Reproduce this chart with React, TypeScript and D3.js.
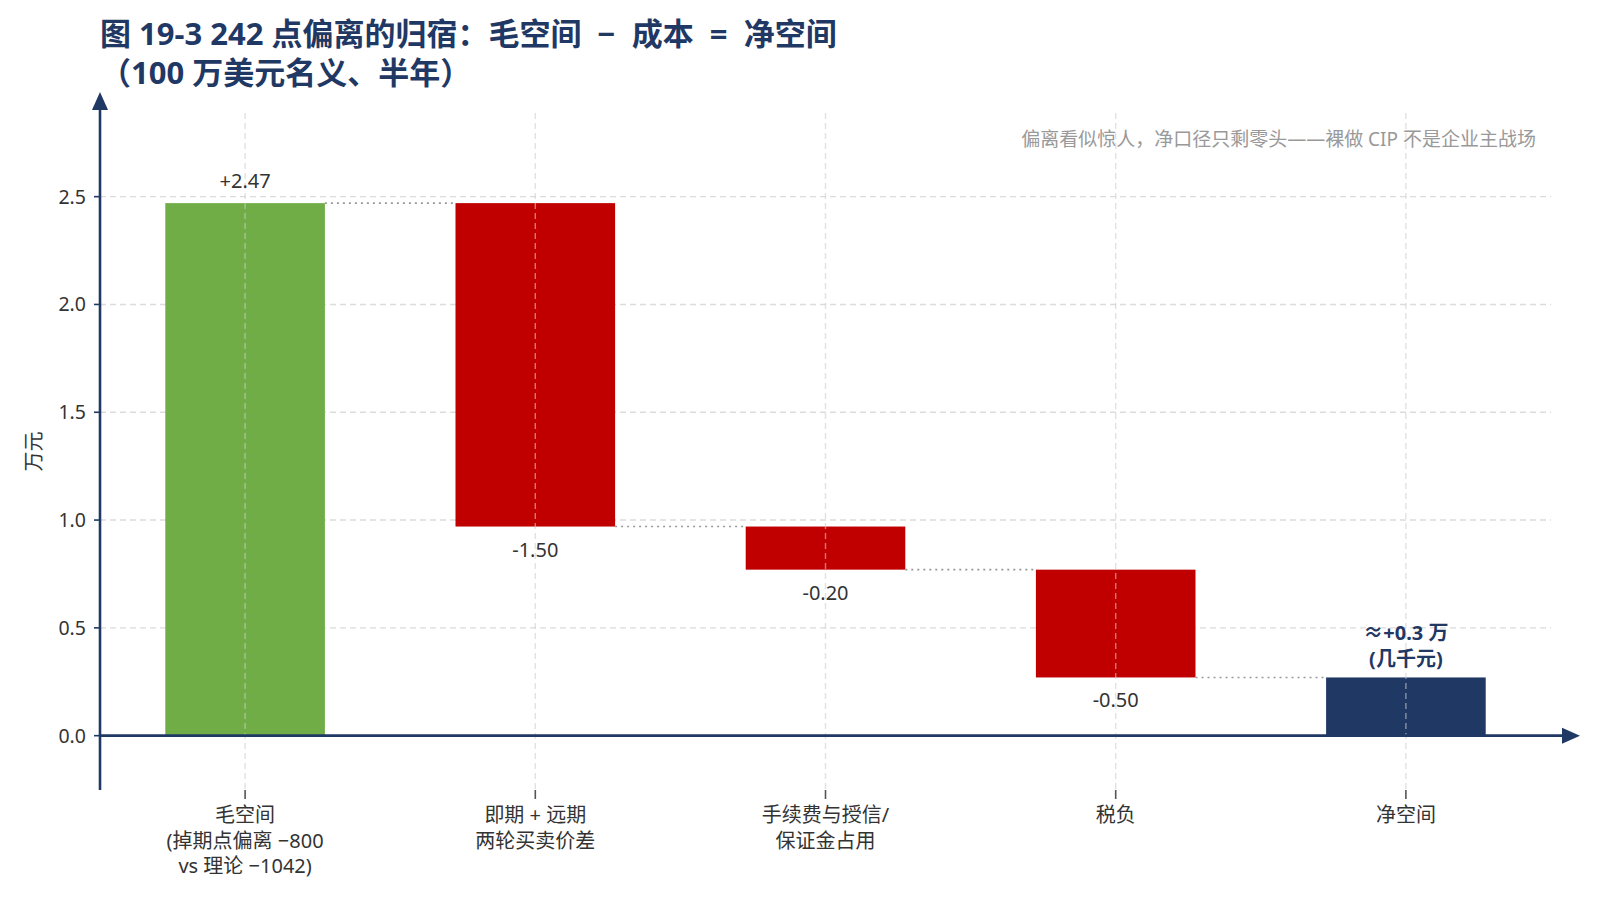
import React from 'react';
import * as d3 from 'd3';

const categories = ['毛空间', '即期＋远期', '手续费与授信', '税负', '净空间'];
const catLabels = [
  ['毛空间', '(掉期点偏离 −800', 'vs 理论 −1042)'],
  ['即期 + 远期', '两轮买卖价差'],
  ['手续费与授信/', '保证金占用'],
  ['税负'],
  ['净空间'],
];
const deltas = [2.47, -1.5, -0.2, -0.5];
const netValue = 0.27;
const valueLabels = ['+2.47', '-1.50', '-0.20', '-0.50'];
const netLabel = ['≈+0.3 万', '(几千元)'];
const yTicks = [0, 0.5, 1.0, 1.5, 2.0, 2.5];

const titleLines = ['图 19-3 242 点偏离的归宿：毛空间  −  成本  =  净空间', '（100 万美元名义、半年）'];
const note = '偏离看似惊人，净口径只剩零头——裸做 CIP 不是企业主战场';

const W = 1600;
const H = 900;
const left = 100;
const right = 1551;
const top = 113;
const bottom = 790;

const NAVY = '#1f3864';
const GREEN = '#70ad47';
const RED = '#c00000';
const FONT = '"Noto Sans", "Noto Sans CJK SC", sans-serif';

export default function App() {
  const x = d3.scaleBand<string>().domain(categories).range([left, right]).paddingInner(0.45).paddingOuter(0.225);
  const y = d3.scaleLinear().domain([-0.252, 2.888]).range([bottom, top]);
  const bw = x.bandwidth();
  const cx = (c: string) => x(c)! + bw / 2;

  // waterfall segments
  let cum = 0;
  const segs = deltas.map((d, i) => {
    const start = cum;
    cum += d;
    return { cat: categories[i], start, end: cum, d, label: valueLabels[i] };
  });
  const netCat = categories[categories.length - 1];

  return (
    <svg width={W} height={H} style={{ position: 'absolute', left: 0, top: 0, fontFamily: FONT }}>
      <rect width={W} height={H} fill="#fff" />

      {/* horizontal grid */}
      {yTicks.map(t => (
        <line key={t} x1={left} x2={right} y1={y(t)} y2={y(t)} stroke="#dcdcdc" strokeWidth={1.4} strokeDasharray="6,4" />
      ))}

      {/* bars */}
      {segs.map((s, i) => (
        <rect
          key={s.cat}
          x={x(s.cat)}
          width={bw}
          y={y(Math.max(s.start, s.end))}
          height={Math.abs(y(s.start) - y(s.end))}
          fill={i === 0 ? GREEN : RED}
        />
      ))}
      <rect x={x(netCat)} width={bw} y={y(netValue)} height={y(0) - y(netValue)} fill={NAVY} />

      {/* vertical grid */}
      {categories.map(c => (
        <line key={c} x1={cx(c)} x2={cx(c)} y1={top} y2={bottom} stroke="#cfcfcf" strokeWidth={1.4} strokeDasharray="6,4" opacity={0.6} />
      ))}

      {/* connectors */}
      {segs.map((s, i) => (
        <line key={'c' + i} x1={x(s.cat)! + bw} x2={x(categories[i + 1])!} y1={y(s.end)} y2={y(s.end)} stroke="#999" strokeWidth={1.6} strokeDasharray="2,4" />
      ))}

      {/* value labels */}
      {segs.map((s, i) => (
        <text
          key={'v' + i}
          x={cx(s.cat)}
          y={s.d > 0 ? y(s.end) - 15 : y(s.end) + 30}
          textAnchor="middle"
          fontSize={20}
          fill="#333"
        >
          {s.label}
        </text>
      ))}
      {netLabel.map((l, i) => (
        <text key={'n' + i} x={cx(netCat)} y={y(netValue) - 37 + i * 26} textAnchor="middle" fontSize={20} fontWeight="bold" fill={NAVY}>
          {l}
        </text>
      ))}

      {/* axes with arrows */}
      <line x1={left} x2={left} y1={bottom} y2={106} stroke={NAVY} strokeWidth={2.6} />
      <path d={`M${left},92 L${left - 8},110 L${left + 8},110 Z`} fill={NAVY} />
      <line x1={left} x2={1564} y1={y(0)} y2={y(0)} stroke={NAVY} strokeWidth={2.6} />
      <path d={`M1580,${y(0)} L1562,${y(0) - 8} L1562,${y(0) + 8} Z`} fill={NAVY} />

      {yTicks.map(t => (
        <g key={'yt' + t}>
          <line x1={left - 6} x2={left} y1={y(t)} y2={y(t)} stroke={NAVY} strokeWidth={1.6} />
          <text x={left - 14} y={y(t)} dy="0.36em" textAnchor="end" fontSize={19.5} fill="#333">
            {d3.format('.1f')(t)}
          </text>
        </g>
      ))}
      <text transform={`translate(41,${(top + bottom) / 2}) rotate(-90)`} textAnchor="middle" fontSize={20} fill="#333">
        万元
      </text>

      {categories.map((c, i) => (
        <g key={'xt' + c}>
          <line x1={cx(c)} x2={cx(c)} y1={bottom} y2={bottom + 9} stroke="#555" strokeWidth={1.6} />
          {catLabels[i].map((l, j) => (
            <text key={j} x={cx(c)} y={822 + j * 25.5} textAnchor="middle" fontSize={20} fill="#333">
              {l}
            </text>
          ))}
        </g>
      ))}

      {/* title & note */}
      {titleLines.map((l, i) => (
        <text key={'t' + i} x={100} y={45 + i * 39} fontSize={31} fontWeight="bold" fill={NAVY} style={{ whiteSpace: 'pre' }}>
          {l}
        </text>
      ))}
      <text x={1536} y={146} textAnchor="end" fontSize={19} fill="#999">
        {note}
      </text>
    </svg>
  );
}
